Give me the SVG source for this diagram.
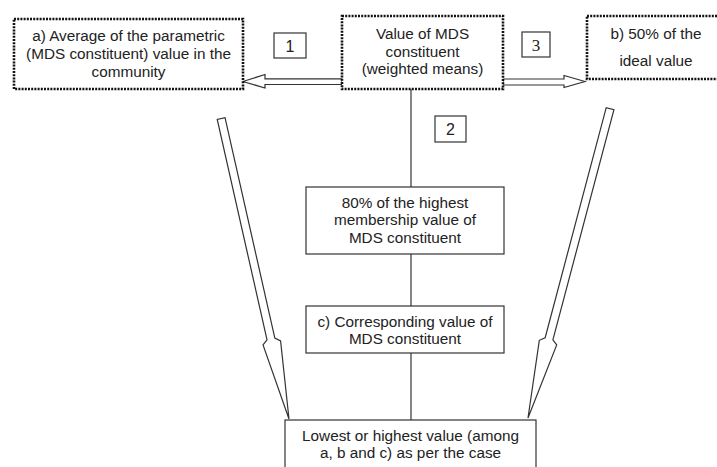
<svg xmlns="http://www.w3.org/2000/svg" width="717" height="467" viewBox="0 0 717 467">
<style>
text{font-family:"Liberation Sans",Arial,sans-serif;font-size:15.3px;fill:#222;text-anchor:middle}
.num{font-size:16px}
.serif{font-family:"Liberation Serif","Times New Roman",serif;font-size:17px}
.dot{fill:#fff;stroke:#111;stroke-width:2.6;stroke-dasharray:2 1.2}
.box{fill:#fff;stroke:#333;stroke-width:1.2}
.arr{fill:#fff;stroke:#333;stroke-width:1.2;stroke-linejoin:miter}
.ln{stroke:#333;stroke-width:1.2;fill:none}
</style>
<rect width="717" height="467" fill="#fff"/>
<g id="connectors">
<line class="ln" x1="411" y1="89" x2="411" y2="420"/>
<polygon class="arr" points="243,81.5 265,74.5 265,78.8 342,78.8 342,84.5 265,84.5 265,88 "/>
<polygon class="arr" points="585,81.5 564,75.5 564,79 503,79 503,85 564,85 564,87.5"/>
<polygon class="arr" transform="translate(289,419) rotate(-12.73)" points="0,0 -9,-78 -4,-82 -4,-308 4,-308 4,-82 9,-78"/>
<polygon class="arr" transform="translate(528,418) rotate(14.86)" points="0,0 -9,-78 -4,-82 -4,-320 4,-320 4,-82 9,-78"/>
</g>
<g id="node-a">
<rect class="dot" x="14" y="19" width="229" height="70"/>
<text x="128.5" y="40.5">a) Average of the parametric</text>
<text x="128.5" y="58.5">(MDS constituent) value in the</text>
<text x="128.5" y="76.5">community</text>
</g>
<g id="node-center">
<rect class="dot" x="342" y="16" width="161" height="73"/>
<text x="422.5" y="38.5">Value of MDS</text>
<text x="422.5" y="56.5">constituent</text>
<text x="422.5" y="73.5">(weighted means)</text>
</g>
<g id="node-b">
<rect class="dot" x="587" y="16" width="140" height="63"/>
<text x="656" y="38.5">b) 50% of the</text>
<text x="656" y="66">ideal value</text>
</g>
<g id="label-1">
<rect class="box" x="274" y="33" width="32" height="25"/>
<text class="num" x="290" y="51.5">1</text>
</g>
<g id="label-3">
<rect class="box" x="522" y="32" width="28" height="25"/>
<text class="serif" x="536" y="50.5">3</text>
</g>
<g id="label-2">
<rect class="box" x="435" y="116" width="31" height="26"/>
<text class="num" x="450.5" y="134.5">2</text>
</g>
<g id="node-80">
<rect class="box" x="306" y="187" width="198" height="67"/>
<text x="405" y="207.5">80% of the highest</text>
<text x="405" y="224.5">membership value of</text>
<text x="405" y="242.5">MDS constituent</text>
</g>
<g id="node-c">
<rect class="box" x="306" y="306" width="198" height="47"/>
<text x="405" y="326.5">c) Corresponding value of</text>
<text x="405" y="343.5">MDS constituent</text>
</g>
<g id="node-result">
<rect class="box" x="285" y="420" width="251" height="60"/>
<text x="410.5" y="440.5">Lowest or highest value (among</text>
<text x="410.5" y="457.5">a, b and c) as per the case</text>
</g>
</svg>
